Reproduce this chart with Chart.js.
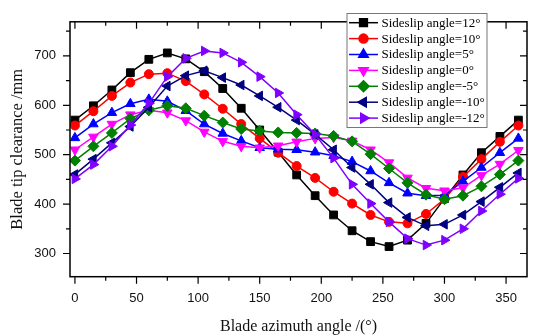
<!DOCTYPE html>
<html>
<head>
<meta charset="utf-8">
<script src="https://cdn.jsdelivr.net/npm/chart.js@4.4.1/dist/chart.umd.min.js"></script>
<style>
  html, body { margin: 0; padding: 0; background: #fff; }
  #wrap { position: relative; width: 538px; height: 336px; }
</style>
</head>
<body>
<div id="wrap"><canvas id="chart" width="538" height="336"></canvas></div>
<script>
// blade azimuth angle (deg)
const azimuth = [0, 15, 30, 45, 60, 75, 90, 105, 120, 135, 150, 165, 180,
                 195, 210, 225, 240, 255, 270, 285, 300, 315, 330, 345, 360];

const seriesNames = ['Sideslip angle=12°', 'Sideslip angle=10°', 'Sideslip angle=5°',
                     'Sideslip angle=0°', 'Sideslip angle=-5°', 'Sideslip angle=-10°',
                     'Sideslip angle=-12°'];

const slip12  = [570, 599, 631, 666, 693, 706, 694, 668, 634, 594, 550, 505, 459, 417, 378, 346, 324, 314, 327, 361, 411, 459, 504, 537, 570];
const slip10  = [559, 588, 619, 646, 663, 665, 649, 622, 593, 562, 533, 504, 477, 453, 425, 401, 378, 364, 361, 380, 410, 455, 491, 526, 559];
const slip5   = [534, 562, 585, 603, 612, 608, 589, 562, 543, 528, 514, 511, 510, 505, 498, 486, 467, 443, 422, 417, 418, 446, 474, 504, 533];
const slip0   = [510, 536, 562, 581, 590, 585, 569, 546, 527, 517, 514, 518, 526, 533, 535, 528, 510, 484, 453, 432, 427, 433, 458, 481, 509];
const slipM5  = [488, 517, 544, 573, 590, 599, 594, 579, 565, 552, 548, 545, 544, 543, 538, 527, 501, 472, 443, 419, 410, 417, 436, 460, 488];
const slipM10 = [460, 491, 524, 557, 596, 639, 660, 670, 656, 641, 619, 596, 570, 541, 510, 474, 440, 403, 373, 356, 359, 378, 405, 434, 463];
const slipM12 = [451, 480, 517, 560, 604, 658, 695, 710, 706, 687, 658, 625, 581, 541, 493, 440, 401, 364, 330, 317, 327, 350, 386, 420, 452];

const xMajor = [0, 50, 100, 150, 200, 250, 300, 350];
const yMajor = [300, 400, 500, 600, 700];

const allSeries = [slip12, slip10, slip5, slip0, slipM5, slipM10, slipM12];
const colors = ['#000000', '#ff0000', '#0000ff', '#ff00ff', '#008000', '#000080', '#8000ff'];
const styles = ['rect', 'circle', 'triangle', 'triangle', 'rectRot', 'triangle', 'triangle'];
const rotations = [0, 0, 0, 180, 0, -90, 90];
const radii = [5.5, 4.5, 5.5, 5.5, 5.5, 5.5, 5.5];

const datasets = allSeries.map((vals, i) => ({
    label: seriesNames[i],
    data: vals.map((v, k) => ({ x: azimuth[k], y: v })),
    borderColor: colors[i],
    backgroundColor: colors[i],
    borderWidth: 1.5,
    pointStyle: styles[i],
    pointRotation: rotations[i],
    pointRadius: radii[i],
    pointBorderWidth: 1,
    tension: 0,
    order: 6 - i
}));

// frame, inside/outside ticks and the legend box
const framePlugin = {
    id: 'frame',
    afterDraw(chart) {
        const ctx = chart.ctx;
        const a = chart.chartArea;
        const xs = chart.scales.x, ys = chart.scales.y;
        ctx.save();
        ctx.strokeStyle = '#000';
        ctx.lineWidth = 1.5;
        ctx.strokeRect(a.left, a.top, a.right - a.left, a.bottom - a.top);

        ctx.lineWidth = 1.2;
        ctx.beginPath();
        for (let v = 0; v <= 350; v += 25) {
            const px = xs.getPixelForValue(v);
            const len = v % 50 === 0 ? 7 : 4;
            ctx.moveTo(px, a.bottom); ctx.lineTo(px, a.bottom + len);
            ctx.moveTo(px, a.top); ctx.lineTo(px, a.top + len);
        }
        for (let v = 300; v <= 750; v += 50) {
            const py = ys.getPixelForValue(v);
            const len = v % 100 === 0 ? 7 : 4;
            ctx.moveTo(a.left, py); ctx.lineTo(a.left - len, py);
            ctx.moveTo(a.right, py); ctx.lineTo(a.right - len, py);
        }
        ctx.stroke();

        // legend
        const bx = 347, by = 13.5, bw = 140, bh = 114;
        ctx.fillStyle = '#fff';
        ctx.fillRect(bx, by, bw, bh);
        ctx.strokeStyle = '#777';
        ctx.lineWidth = 1;
        ctx.strokeRect(bx, by, bw, bh);
        ctx.font = '13px "Liberation Serif", "Times New Roman", serif';
        ctx.textBaseline = 'middle';
        ctx.textAlign = 'left';
        datasets.forEach((ds, i) => {
            const y = 22.7 + i * 15.9;
            ctx.strokeStyle = ds.borderColor;
            ctx.lineWidth = 1.5;
            ctx.beginPath();
            ctx.moveTo(349, y); ctx.lineTo(378, y);
            ctx.stroke();
            ctx.fillStyle = ds.backgroundColor;
            Chart.helpers.drawPoint(ctx, {
                pointStyle: ds.pointStyle,
                rotation: ds.pointRotation,
                radius: ds.pointRadius,
                borderWidth: 1
            }, 363.5, y);
            ctx.fillStyle = '#000';
            ctx.fillText(ds.label, 381.5, y + 0.5);
        });
        ctx.restore();
    }
};

new Chart(document.getElementById('chart'), {
    type: 'line',
    data: { datasets },
    options: {
        responsive: false,
        animation: false,
        layout: { padding: { top: 9.5, right: 11, left: 0, bottom: 0 } },
        plugins: { legend: { display: false }, tooltip: { enabled: false } },
        scales: {
            x: {
                type: 'linear',
                min: -4,
                max: 367,
                afterBuildTicks: axis => { axis.ticks = xMajor.map(v => ({ value: v })); },
                afterFit: axis => { axis.height = 59.3; },
                grid: { display: false, drawTicks: false },
                border: { display: false },
                ticks: {
                    padding: 14,
                    maxRotation: 0,
                    color: '#111',
                    font: { family: '"Liberation Sans", Arial, sans-serif', size: 13 }
                },
                title: {
                    display: true,
                    text: 'Blade azimuth angle /(°)',
                    color: '#111',
                    padding: { top: 2, bottom: 0 },
                    font: { family: '"Liberation Serif", "Times New Roman", serif', size: 16 }
                }
            },
            y: {
                type: 'linear',
                min: 253,
                max: 769,
                afterBuildTicks: axis => { axis.ticks = yMajor.map(v => ({ value: v })); },
                afterFit: axis => { axis.width = 70; },
                grid: { display: false, drawTicks: false },
                border: { display: false },
                ticks: {
                    padding: 14,
                    color: '#111',
                    font: { family: '"Liberation Sans", Arial, sans-serif', size: 13 }
                },
                title: {
                    display: true,
                    text: 'Blade tip clearance /mm',
                    color: '#111',
                    padding: { top: 8, bottom: 0 },
                    font: { family: '"Liberation Serif", "Times New Roman", serif', size: 16.5 }
                }
            }
        }
    },
    plugins: [framePlugin]
});
</script>
</body>
</html>
